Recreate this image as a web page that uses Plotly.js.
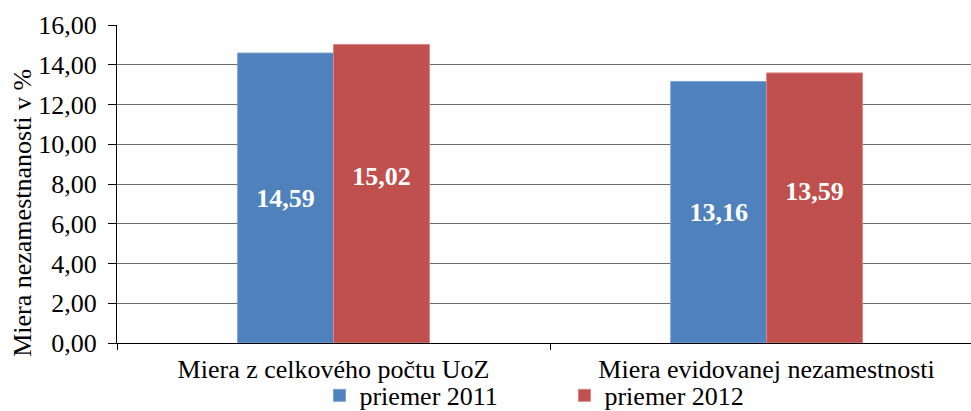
<!DOCTYPE html>
<html>
<head>
<meta charset="utf-8">
<script src="https://cdn.plot.ly/plotly-3.0.1.min.js"></script>
<style>html,body{margin:0;padding:0;background:#fff;}#chart{width:971px;height:411px;}</style>
</head>
<body>
<div id="chart"></div>
<script>
var categories = ["Miera z celkového počtu UoZ", "Miera evidovanej nezamestnosti"];
var series2011 = [14.59, 13.16];
var series2012 = [15.02, 13.59];
var seriesNames = ["priemer 2011", "priemer 2012"];
var yTicks = [0, 2, 4, 6, 8, 10, 12, 14, 16];
var yTitle = "Miera nezamestnanosti v %";

var FONT = "'Liberation Serif', 'Times New Roman', Times, serif";

var traces = [
  {
    type: "bar", name: seriesNames[0], x: categories, y: series2011,
    marker: {color: "#4F81BD", line: {color: "#7EA3D3", width: 1}},
    texttemplate: "<b>%{y:.2f}</b>", textposition: "inside", insidetextanchor: "middle",
    textangle: 0, constraintext: "none",
    insidetextfont: {family: FONT, size: 26, color: "#ffffff"},
    hoverinfo: "none"
  },
  {
    type: "bar", name: seriesNames[1], x: categories, y: series2012,
    marker: {color: "#C0504D", line: {color: "#D98582", width: 1}},
    texttemplate: "<b>%{y:.2f}</b><br> ", textposition: "inside", insidetextanchor: "middle",
    textangle: 0, constraintext: "none",
    insidetextfont: {family: FONT, size: 26, color: "#ffffff"},
    hoverinfo: "none"
  }
];

var layout = {
  width: 971, height: 411,
  margin: {l: 117, r: 0, t: 25, b: 68, pad: 0, autoexpand: false},
  paper_bgcolor: "#ffffff", plot_bgcolor: "#ffffff",
  separators: ", ",
  font: {family: FONT, size: 26, color: "#000000"},
  barmode: "group", bargap: 0.557, bargroupgap: 0,
  showlegend: true,
  legend: {
    orientation: "h", xref: "container", yref: "container",
    x: 0.329, xanchor: "left", y: 0.095, yanchor: "top",
    font: {family: FONT, size: 26, color: "#000000"},
    entrywidth: 200, entrywidthmode: "pixels",
    bgcolor: "rgba(0,0,0,0)"
  },
  xaxis: {
    type: "category", range: [-0.5, 1.472],
    showline: true, linecolor: "#000000", linewidth: 1,
    ticks: "outside", ticklen: 6, tickcolor: "#000000", tickson: "boundaries",
    ticklabelstandoff: 3,
    showgrid: false, zeroline: false,
    tickfont: {family: FONT, size: 26, color: "#000000"},
    fixedrange: true
  },
  yaxis: {
    range: [0, 16], tickvals: yTicks, tickformat: ".2f",
    showline: true, linecolor: "#000000", linewidth: 1,
    ticks: "outside", ticklen: 8, tickcolor: "#000000",
    ticklabelstandoff: 6,
    showgrid: true, gridcolor: "#6e6e6e", gridwidth: 1, zeroline: false,
    tickfont: {family: FONT, size: 26, color: "#000000"},
    automargin: false,
    fixedrange: true
  },
  annotations: [{
    text: yTitle, textangle: -90, showarrow: false,
    xref: "paper", yref: "paper", x: -0.111, y: 0.41,
    xanchor: "center", yanchor: "middle",
    font: {family: FONT, size: 26, color: "#000000"}
  }]
};

Plotly.newPlot("chart", traces, layout, {displayModeBar: false, staticPlot: true});
</script>
</body>
</html>
